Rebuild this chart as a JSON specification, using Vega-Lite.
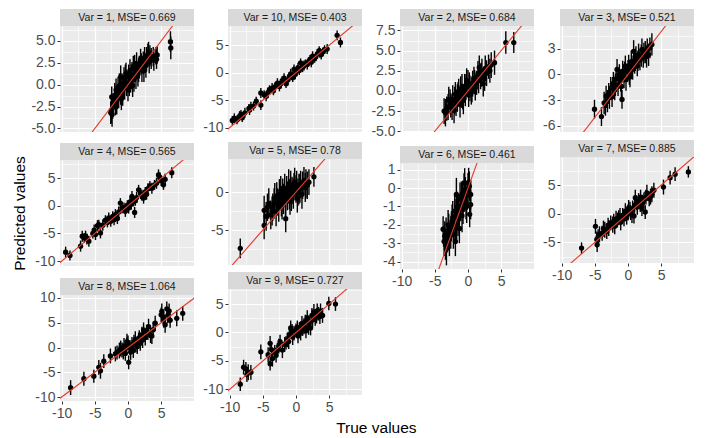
{
"$schema":"https://vega.github.io/schema/vega-lite/v6.json",
"padding":{"left":12,"top":9,"right":5,"bottom":0},
"config":{"view":{"stroke":null},"font":"Liberation Sans",
 "axis":{"domain":false,"labelFont":"Liberation Sans","labelFontSize":14,"labelColor":"#4D4D4D","tickColor":"#333333","tickSize":3,"tickWidth":1,"labelPadding":2,"gridColor":"#FFFFFF","labelFlush":false,"labelOverlap":false,"titleFont":"Liberation Sans","titleFontSize":15.5,"titleFontWeight":"normal","titleColor":"#000000"}},
"title":{"text":"True values","orient":"bottom","anchor":"middle","fontSize":15.5,"fontWeight":"normal","font":"Liberation Sans","color":"#000000","offset":1,"dx":23},
"datasets":{
"ident":[{"x":-20,"y":-20},{"x":20,"y":20}],
"pts":[
{"p":1,"x":-2.6,"y":-3.2,"e":1.3},{"p":1,"x":-2.5,"y":-2.9,"e":1.5},{"p":1,"x":-2.4,"y":-3.4,"e":1.4},{"p":1,"x":-2.45,"y":-1.4,"e":1.2},{"p":1,"x":-2.2,"y":-2.3,"e":1.3},{"p":1,"x":-2.0,"y":-1.2,"e":1.4},{"p":1,"x":-1.8,"y":-0.6,"e":1.3},{"p":1,"x":-1.7,"y":-1.9,"e":1.5},{"p":1,"x":-1.5,"y":-0.3,"e":1.2},{"p":1,"x":-1.4,"y":-1.3,"e":1.4},{"p":1,"x":-1.1,"y":0.9,"e":1.3},{"p":1,"x":-1.1,"y":-0.8,"e":1.5},{"p":1,"x":-0.9,"y":0.1,"e":1.2},{"p":1,"x":-0.8,"y":-1.0,"e":1.4},{"p":1,"x":-0.6,"y":0.7,"e":1.3},{"p":1,"x":-0.5,"y":-0.3,"e":1.4},{"p":1,"x":-0.3,"y":1.3,"e":1.2},{"p":1,"x":-0.2,"y":0.2,"e":1.5},{"p":1,"x":0.0,"y":-0.6,"e":1.3},{"p":1,"x":0.1,"y":0.9,"e":1.4},{"p":1,"x":0.3,"y":1.6,"e":1.3},{"p":1,"x":0.4,"y":0.3,"e":1.2},{"p":1,"x":0.6,"y":1.1,"e":1.5},{"p":1,"x":0.8,"y":2.0,"e":1.3},{"p":1,"x":0.9,"y":0.6,"e":1.4},{"p":1,"x":1.1,"y":1.5,"e":1.2},{"p":1,"x":1.3,"y":2.4,"e":1.3},{"p":1,"x":1.5,"y":1.2,"e":1.4},{"p":1,"x":1.7,"y":2.0,"e":1.3},{"p":1,"x":1.9,"y":2.9,"e":1.2},{"p":1,"x":2.1,"y":1.8,"e":1.5},{"p":1,"x":2.3,"y":2.5,"e":1.3},{"p":1,"x":2.5,"y":3.1,"e":1.2},{"p":1,"x":2.7,"y":2.2,"e":1.4},{"p":1,"x":3.0,"y":3.4,"e":1.3},{"p":1,"x":3.1,"y":3.7,"e":1.2},{"p":1,"x":3.2,"y":2.6,"e":1.3},{"p":1,"x":3.5,"y":3.0,"e":1.2},{"p":1,"x":3.8,"y":3.2,"e":1.1},{"p":1,"x":4.2,"y":3.3,"e":1.0},{"p":1,"x":4.4,"y":3.4,"e":1.0},{"p":1,"x":6.4,"y":4.9,"e":1.2},{"p":1,"x":6.45,"y":4.2,"e":1.3},
{"p":1,"x":-2.3,"y":-2.6,"e":1.3},{"p":1,"x":-1.9,"y":-2.1,"e":1.4},{"p":1,"x":-1.6,"y":-1.5,"e":1.3},{"p":1,"x":-1.3,"y":-0.1,"e":1.4},{"p":1,"x":-1.0,"y":-1.6,"e":1.3},{"p":1,"x":-0.7,"y":-0.4,"e":1.2},{"p":1,"x":-0.4,"y":0.9,"e":1.4},{"p":1,"x":0.2,"y":0.0,"e":1.3},{"p":1,"x":0.5,"y":0.9,"e":1.4},{"p":1,"x":0.7,"y":-0.1,"e":1.3},{"p":1,"x":1.0,"y":2.2,"e":1.2},{"p":1,"x":1.2,"y":0.9,"e":1.4},{"p":1,"x":1.6,"y":1.6,"e":1.3},{"p":1,"x":2.0,"y":2.4,"e":1.2},{"p":1,"x":2.4,"y":1.6,"e":1.3},{"p":1,"x":2.8,"y":2.9,"e":1.4},{"p":1,"x":3.3,"y":3.3,"e":1.2},{"p":1,"x":3.9,"y":2.8,"e":1.2},{"p":1,"x":4.3,"y":2.9,"e":1.1},
{"p":10,"x":-9.6,"y":-8.7,"e":0.8},{"p":10,"x":-9.3,"y":-8.3,"e":0.9},{"p":10,"x":-8.9,"y":-8.6,"e":0.8},{"p":10,"x":-8.5,"y":-7.9,"e":0.9},{"p":10,"x":-8.1,"y":-8.2,"e":0.8},{"p":10,"x":-7.7,"y":-7.3,"e":0.9},{"p":10,"x":-7.1,"y":-6.5,"e":0.8},{"p":10,"x":-7.0,"y":-6.8,"e":0.9},{"p":10,"x":-6.4,"y":-6.1,"e":0.8},{"p":10,"x":-5.3,"y":-5.9,"e":0.9},{"p":10,"x":-5.3,"y":-3.7,"e":0.9},{"p":10,"x":-4.8,"y":-4.0,"e":0.8},{"p":10,"x":-4.5,"y":-4.3,"e":0.9},{"p":10,"x":-4.0,"y":-3.1,"e":0.8},{"p":10,"x":-3.6,"y":-2.8,"e":0.9},{"p":10,"x":-3.2,"y":-2.6,"e":0.8},{"p":10,"x":-2.8,"y":-1.9,"e":0.9},{"p":10,"x":-2.5,"y":-2.5,"e":0.9},{"p":10,"x":-2.1,"y":-1.5,"e":0.8},{"p":10,"x":-1.8,"y":-1.0,"e":0.9},{"p":10,"x":-1.5,"y":-2.0,"e":0.8},{"p":10,"x":-1.2,"y":-1.3,"e":1.0},{"p":10,"x":-0.8,"y":-0.2,"e":0.9},{"p":10,"x":-0.5,"y":-0.9,"e":0.8},{"p":10,"x":-0.3,"y":0.6,"e":0.9},{"p":10,"x":0.0,"y":0.1,"e":0.8},{"p":10,"x":0.3,"y":0.9,"e":0.9},{"p":10,"x":0.7,"y":1.8,"e":0.8},{"p":10,"x":1.0,"y":1.0,"e":0.9},{"p":10,"x":1.4,"y":1.6,"e":0.8},{"p":10,"x":1.7,"y":1.5,"e":0.9},{"p":10,"x":2.1,"y":2.4,"e":0.8},{"p":10,"x":2.5,"y":3.0,"e":0.9},{"p":10,"x":2.8,"y":2.6,"e":0.8},{"p":10,"x":3.2,"y":3.4,"e":0.9},{"p":10,"x":3.5,"y":4.0,"e":0.8},{"p":10,"x":3.8,"y":3.3,"e":0.9},{"p":10,"x":4.1,"y":3.8,"e":0.8},{"p":10,"x":4.7,"y":4.3,"e":0.9},{"p":10,"x":6.2,"y":6.8,"e":0.9},{"p":10,"x":6.7,"y":5.5,"e":0.9},
{"p":10,"x":-8.3,"y":-7.6,"e":0.8},{"p":10,"x":-6.8,"y":-6.2,"e":0.9},{"p":10,"x":-6.0,"y":-5.2,"e":0.8},{"p":10,"x":-4.2,"y":-3.6,"e":0.9},{"p":10,"x":-3.4,"y":-3.3,"e":0.8},{"p":10,"x":-2.3,"y":-2.0,"e":0.9},{"p":10,"x":-1.0,"y":-0.7,"e":0.8},{"p":10,"x":-0.1,"y":-0.3,"e":0.9},{"p":10,"x":0.5,"y":0.4,"e":0.8},{"p":10,"x":1.2,"y":1.3,"e":0.9},{"p":10,"x":1.9,"y":2.0,"e":0.8},{"p":10,"x":2.3,"y":1.9,"e":0.9},{"p":10,"x":3.0,"y":2.9,"e":0.8},{"p":10,"x":3.6,"y":3.6,"e":0.9},{"p":10,"x":4.3,"y":4.2,"e":0.8},
{"p":2,"x":-3.6,"y":-2.5,"e":1.6},{"p":2,"x":-3.4,"y":-2.7,"e":1.7},{"p":2,"x":-3.2,"y":-2.2,"e":1.5},{"p":2,"x":-2.9,"y":-1.1,"e":1.6},{"p":2,"x":-2.6,"y":-1.8,"e":1.5},{"p":2,"x":-2.3,"y":-1.0,"e":1.7},{"p":2,"x":-2.1,"y":-2.4,"e":1.6},{"p":2,"x":-1.9,"y":-0.4,"e":1.5},{"p":2,"x":-1.8,"y":-1.5,"e":1.6},{"p":2,"x":-1.6,"y":-0.9,"e":1.7},{"p":2,"x":-1.4,"y":0.0,"e":1.5},{"p":2,"x":-1.2,"y":-1.7,"e":1.6},{"p":2,"x":-1.0,"y":-0.6,"e":1.5},{"p":2,"x":-0.9,"y":0.5,"e":1.6},{"p":2,"x":-0.7,"y":-1.2,"e":1.7},{"p":2,"x":-0.5,"y":0.6,"e":1.5},{"p":2,"x":-0.4,"y":-0.3,"e":1.6},{"p":2,"x":-0.2,"y":1.3,"e":1.5},{"p":2,"x":0.0,"y":1.0,"e":1.6},{"p":2,"x":0.1,"y":-0.5,"e":1.5},{"p":2,"x":0.3,"y":0.3,"e":1.6},{"p":2,"x":0.5,"y":-0.2,"e":1.5},{"p":2,"x":0.7,"y":0.9,"e":1.6},{"p":2,"x":0.9,"y":1.5,"e":1.5},{"p":2,"x":1.1,"y":0.4,"e":1.6},{"p":2,"x":1.3,"y":1.0,"e":1.5},{"p":2,"x":1.5,"y":2.1,"e":1.6},{"p":2,"x":1.7,"y":2.9,"e":1.5},{"p":2,"x":1.9,"y":1.8,"e":1.6},{"p":2,"x":2.1,"y":2.5,"e":1.5},{"p":2,"x":2.3,"y":0.9,"e":1.6},{"p":2,"x":2.5,"y":1.5,"e":1.5},{"p":2,"x":2.8,"y":2.2,"e":1.6},{"p":2,"x":3.1,"y":3.0,"e":1.5},{"p":2,"x":3.5,"y":3.2,"e":1.6},{"p":2,"x":4.0,"y":3.5,"e":1.5},{"p":2,"x":5.7,"y":6.0,"e":1.4},{"p":2,"x":6.9,"y":6.0,"e":1.3},
{"p":2,"x":-3.0,"y":-2.0,"e":1.6},{"p":2,"x":-2.7,"y":-1.3,"e":1.5},{"p":2,"x":-2.4,"y":-2.0,"e":1.6},{"p":2,"x":-2.0,"y":-1.2,"e":1.7},{"p":2,"x":-1.5,"y":-0.4,"e":1.5},{"p":2,"x":-1.1,"y":0.2,"e":1.6},{"p":2,"x":-0.8,"y":-0.8,"e":1.5},{"p":2,"x":-0.3,"y":0.5,"e":1.6},{"p":2,"x":0.2,"y":0.8,"e":1.5},{"p":2,"x":0.6,"y":0.2,"e":1.6},{"p":2,"x":1.0,"y":1.1,"e":1.5},{"p":2,"x":1.6,"y":1.3,"e":1.6},{"p":2,"x":2.0,"y":2.0,"e":1.5},{"p":2,"x":2.6,"y":2.8,"e":1.6},{"p":2,"x":3.3,"y":2.5,"e":1.5},
{"p":3,"x":-5.05,"y":-4.05,"e":1.1},{"p":3,"x":-4.0,"y":-4.9,"e":1.1},{"p":3,"x":-3.6,"y":-3.3,"e":1.3},{"p":3,"x":-3.3,"y":-2.5,"e":1.2},{"p":3,"x":-3.1,"y":-3.1,"e":1.3},{"p":3,"x":-2.9,"y":-2.2,"e":1.2},{"p":3,"x":-2.6,"y":-1.6,"e":1.3},{"p":3,"x":-2.4,"y":-2.6,"e":1.2},{"p":3,"x":-2.2,"y":-1.0,"e":1.3},{"p":3,"x":-2.0,"y":-1.8,"e":1.2},{"p":3,"x":-1.8,"y":-0.5,"e":1.3},{"p":3,"x":-1.65,"y":0.6,"e":1.2},{"p":3,"x":-1.5,"y":-1.2,"e":1.3},{"p":3,"x":-1.3,"y":0.0,"e":1.2},{"p":3,"x":-1.1,"y":-0.7,"e":1.3},{"p":3,"x":-0.9,"y":-2.9,"e":1.1},{"p":3,"x":-0.8,"y":0.4,"e":1.2},{"p":3,"x":-0.6,"y":-0.3,"e":1.3},{"p":3,"x":-0.4,"y":1.0,"e":1.2},{"p":3,"x":-0.3,"y":-0.6,"e":1.3},{"p":3,"x":0.0,"y":0.5,"e":1.2},{"p":3,"x":0.1,"y":1.0,"e":1.3},{"p":3,"x":0.3,"y":-0.3,"e":1.2},{"p":3,"x":0.5,"y":1.5,"e":1.3},{"p":3,"x":0.7,"y":0.6,"e":1.2},{"p":3,"x":0.85,"y":2.7,"e":1.3},{"p":3,"x":1.0,"y":1.3,"e":1.2},{"p":3,"x":1.2,"y":2.0,"e":1.3},{"p":3,"x":1.4,"y":1.0,"e":1.2},{"p":3,"x":1.6,"y":2.3,"e":1.3},{"p":3,"x":1.8,"y":1.7,"e":1.2},{"p":3,"x":2.1,"y":2.9,"e":1.3},{"p":3,"x":2.3,"y":2.0,"e":1.2},{"p":3,"x":2.6,"y":2.6,"e":1.3},{"p":3,"x":2.9,"y":3.0,"e":1.2},{"p":3,"x":3.1,"y":2.3,"e":1.3},{"p":3,"x":3.6,"y":3.5,"e":1.3},
{"p":3,"x":-3.4,"y":-3.6,"e":1.2},{"p":3,"x":-2.8,"y":-2.7,"e":1.3},{"p":3,"x":-2.3,"y":-1.5,"e":1.2},{"p":3,"x":-1.9,"y":-1.2,"e":1.3},{"p":3,"x":-1.4,"y":-0.5,"e":1.2},{"p":3,"x":-1.0,"y":-1.4,"e":1.3},{"p":3,"x":-0.5,"y":0.3,"e":1.2},{"p":3,"x":0.2,"y":0.1,"e":1.3},{"p":3,"x":0.6,"y":1.0,"e":1.2},{"p":3,"x":1.1,"y":1.7,"e":1.3},{"p":3,"x":1.5,"y":1.6,"e":1.2},{"p":3,"x":2.0,"y":2.2,"e":1.3},{"p":3,"x":2.4,"y":2.5,"e":1.2},{"p":3,"x":2.8,"y":2.1,"e":1.3},{"p":3,"x":3.3,"y":3.1,"e":1.2},
{"p":4,"x":-9.4,"y":-8.4,"e":1.0},{"p":4,"x":-8.75,"y":-9.0,"e":0.9},{"p":4,"x":-7.15,"y":-7.3,"e":1.0},{"p":4,"x":-6.9,"y":-5.5,"e":1.0},{"p":4,"x":-6.6,"y":-5.8,"e":0.9},{"p":4,"x":-6.4,"y":-5.5,"e":1.0},{"p":4,"x":-5.9,"y":-6.4,"e":1.0},{"p":4,"x":-5.3,"y":-5.0,"e":0.9},{"p":4,"x":-4.9,"y":-5.2,"e":1.0},{"p":4,"x":-4.6,"y":-3.6,"e":1.0},{"p":4,"x":-4.4,"y":-3.4,"e":0.9},{"p":4,"x":-4.15,"y":-4.9,"e":1.0},{"p":4,"x":-3.8,"y":-3.5,"e":1.0},{"p":4,"x":-3.4,"y":-2.6,"e":0.9},{"p":4,"x":-2.9,"y":-2.2,"e":1.0},{"p":4,"x":-2.6,"y":-2.8,"e":1.0},{"p":4,"x":-2.3,"y":-1.9,"e":0.9},{"p":4,"x":-1.9,"y":-1.6,"e":1.0},{"p":4,"x":-1.6,"y":-2.3,"e":1.0},{"p":4,"x":-1.15,"y":0.5,"e":0.9},{"p":4,"x":-0.9,"y":-0.4,"e":1.0},{"p":4,"x":-0.4,"y":-1.0,"e":1.0},{"p":4,"x":-0.1,"y":0.1,"e":0.9},{"p":4,"x":0.3,"y":0.7,"e":1.0},{"p":4,"x":0.6,"y":1.7,"e":1.0},{"p":4,"x":0.85,"y":0.8,"e":0.9},{"p":4,"x":1.0,"y":-1.2,"e":1.0},{"p":4,"x":1.3,"y":1.5,"e":1.0},{"p":4,"x":1.6,"y":2.9,"e":0.9},{"p":4,"x":1.9,"y":2.2,"e":1.0},{"p":4,"x":2.35,"y":1.4,"e":1.0},{"p":4,"x":2.6,"y":2.5,"e":0.9},{"p":4,"x":3.0,"y":3.1,"e":1.0},{"p":4,"x":3.6,"y":3.2,"e":1.0},{"p":4,"x":4.0,"y":3.8,"e":0.9},{"p":4,"x":4.6,"y":5.6,"e":1.0},{"p":4,"x":5.0,"y":4.6,"e":1.0},{"p":4,"x":5.35,"y":3.8,"e":0.9},{"p":4,"x":5.6,"y":4.8,"e":1.0},{"p":4,"x":6.6,"y":6.0,"e":1.0},
{"p":4,"x":-6.2,"y":-6.0,"e":1.0},{"p":4,"x":-5.1,"y":-4.4,"e":1.0},{"p":4,"x":-3.1,"y":-3.0,"e":0.9},{"p":4,"x":-2.1,"y":-2.5,"e":1.0},{"p":4,"x":-1.4,"y":-1.1,"e":1.0},{"p":4,"x":-0.6,"y":-0.3,"e":0.9},{"p":4,"x":0.1,"y":-0.4,"e":1.0},{"p":4,"x":0.5,"y":0.3,"e":1.0},{"p":4,"x":1.1,"y":0.9,"e":0.9},{"p":4,"x":2.1,"y":1.9,"e":1.0},{"p":4,"x":2.8,"y":2.1,"e":1.0},{"p":4,"x":3.3,"y":3.6,"e":0.9},{"p":4,"x":4.3,"y":4.1,"e":1.0},{"p":4,"x":4.8,"y":5.1,"e":1.0},
{"p":5,"x":-8.4,"y":-7.4,"e":1.3},{"p":5,"x":-4.8,"y":-2.4,"e":1.9},{"p":5,"x":-4.8,"y":-4.4,"e":1.8},{"p":5,"x":-4.1,"y":-1.5,"e":2.0},{"p":5,"x":-3.8,"y":-3.0,"e":1.9},{"p":5,"x":-3.5,"y":-2.0,"e":1.8},{"p":5,"x":-3.2,"y":-0.8,"e":2.0},{"p":5,"x":-3.0,"y":-2.6,"e":1.9},{"p":5,"x":-2.8,"y":-1.3,"e":1.8},{"p":5,"x":-2.5,"y":-0.3,"e":2.0},{"p":5,"x":-2.3,"y":0.2,"e":1.9},{"p":5,"x":-2.1,"y":-1.8,"e":1.8},{"p":5,"x":-1.9,"y":-0.9,"e":2.0},{"p":5,"x":-1.7,"y":0.5,"e":1.9},{"p":5,"x":-1.55,"y":-3.5,"e":1.8},{"p":5,"x":-1.3,"y":-0.5,"e":1.9},{"p":5,"x":-1.1,"y":1.0,"e":2.0},{"p":5,"x":-0.9,"y":-1.2,"e":1.8},{"p":5,"x":-0.8,"y":0.9,"e":1.9},{"p":5,"x":-0.6,"y":0.2,"e":1.8},{"p":5,"x":-0.4,"y":-0.2,"e":2.0},{"p":5,"x":-0.2,"y":1.3,"e":1.9},{"p":5,"x":0.0,"y":0.4,"e":1.8},{"p":5,"x":0.2,"y":-0.8,"e":1.9},{"p":5,"x":0.45,"y":0.4,"e":2.0},{"p":5,"x":0.7,"y":1.0,"e":1.8},{"p":5,"x":0.9,"y":-0.3,"e":1.9},{"p":5,"x":1.2,"y":1.5,"e":1.8},{"p":5,"x":1.4,"y":0.6,"e":1.9},{"p":5,"x":1.7,"y":0.9,"e":1.8},{"p":5,"x":1.95,"y":1.3,"e":1.7},{"p":5,"x":2.7,"y":2.0,"e":1.3},
{"p":5,"x":-4.5,"y":-3.2,"e":1.9},{"p":5,"x":-4.3,"y":-2.0,"e":1.8},{"p":5,"x":-3.6,"y":-2.5,"e":1.9},{"p":5,"x":-3.3,"y":-1.5,"e":2.0},{"p":5,"x":-2.9,"y":-0.5,"e":1.8},{"p":5,"x":-2.6,"y":-2.0,"e":1.9},{"p":5,"x":-2.2,"y":-1.2,"e":2.0},{"p":5,"x":-2.0,"y":0.0,"e":1.8},{"p":5,"x":-1.6,"y":-1.3,"e":1.9},{"p":5,"x":-1.4,"y":0.3,"e":1.8},{"p":5,"x":-1.0,"y":-0.3,"e":2.0},{"p":5,"x":-0.7,"y":-0.6,"e":1.9},{"p":5,"x":-0.3,"y":0.7,"e":1.8},{"p":5,"x":0.1,"y":0.9,"e":1.9},{"p":5,"x":0.3,"y":0.0,"e":1.8},{"p":5,"x":0.6,"y":0.5,"e":1.9},{"p":5,"x":1.0,"y":0.9,"e":1.8},{"p":5,"x":1.5,"y":1.1,"e":1.9},
{"p":6,"x":-3.75,"y":-2.24,"e":0.7},{"p":6,"x":-3.5,"y":-2.6,"e":0.8},{"p":6,"x":-3.4,"y":-3.1,"e":0.8},{"p":6,"x":-3.25,"y":-3.3,"e":0.9},{"p":6,"x":-3.0,"y":-2.0,"e":0.8},{"p":6,"x":-2.8,"y":-2.8,"e":0.9},{"p":6,"x":-2.5,"y":-2.06,"e":0.8},{"p":6,"x":-2.3,"y":-1.6,"e":0.9},{"p":6,"x":-2.2,"y":-2.5,"e":0.8},{"p":6,"x":-2.0,"y":-1.25,"e":0.9},{"p":6,"x":-1.9,"y":-2.9,"e":0.8},{"p":6,"x":-1.75,"y":-0.35,"e":0.9},{"p":6,"x":-1.6,"y":-1.0,"e":0.8},{"p":6,"x":-1.5,"y":-1.7,"e":0.9},{"p":6,"x":-1.3,"y":-2.2,"e":0.8},{"p":6,"x":-1.2,"y":-0.6,"e":0.9},{"p":6,"x":-1.0,"y":-0.44,"e":0.8},{"p":6,"x":-0.9,"y":-1.5,"e":0.9},{"p":6,"x":-0.75,"y":-1.16,"e":0.8},{"p":6,"x":-0.6,"y":-0.1,"e":0.9},{"p":6,"x":-0.5,"y":0.28,"e":0.8},{"p":6,"x":-0.3,"y":-0.8,"e":0.9},{"p":6,"x":-0.15,"y":-0.4,"e":0.8},{"p":6,"x":0.0,"y":-0.08,"e":0.9},{"p":6,"x":0.1,"y":0.3,"e":0.8},{"p":6,"x":0.25,"y":-1.43,"e":0.7},{"p":6,"x":0.4,"y":-0.35,"e":0.8},
{"p":6,"x":-3.6,"y":-2.9,"e":0.8},{"p":6,"x":-3.3,"y":-2.5,"e":0.9},{"p":6,"x":-3.1,"y":-2.7,"e":0.8},{"p":6,"x":-2.9,"y":-2.3,"e":0.9},{"p":6,"x":-2.6,"y":-2.5,"e":0.8},{"p":6,"x":-2.4,"y":-1.8,"e":0.9},{"p":6,"x":-2.1,"y":-2.1,"e":0.8},{"p":6,"x":-1.8,"y":-1.5,"e":0.9},{"p":6,"x":-1.7,"y":-2.0,"e":0.8},{"p":6,"x":-1.4,"y":-1.2,"e":0.9},{"p":6,"x":-1.1,"y":-1.0,"e":0.8},{"p":6,"x":-0.8,"y":-0.5,"e":0.9},{"p":6,"x":-0.4,"y":-0.2,"e":0.8},{"p":6,"x":-0.2,"y":-1.0,"e":0.9},{"p":6,"x":0.2,"y":0.1,"e":0.8},{"p":6,"x":0.4,"y":-0.9,"e":0.8},
{"p":7,"x":-7.0,"y":-6.0,"e":1.0},{"p":7,"x":-4.9,"y":-2.2,"e":1.3},{"p":7,"x":-4.7,"y":-4.5,"e":1.4},{"p":7,"x":-4.65,"y":-5.4,"e":1.3},{"p":7,"x":-4.3,"y":-3.6,"e":1.4},{"p":7,"x":-3.9,"y":-3.4,"e":1.3},{"p":7,"x":-3.5,"y":-2.8,"e":1.4},{"p":7,"x":-3.2,"y":-3.1,"e":1.3},{"p":7,"x":-2.9,"y":-2.5,"e":1.4},{"p":7,"x":-2.6,"y":-1.6,"e":1.3},{"p":7,"x":-2.3,"y":-1.9,"e":1.4},{"p":7,"x":-2.15,"y":-1.3,"e":1.3},{"p":7,"x":-1.8,"y":-0.9,"e":1.4},{"p":7,"x":-1.4,"y":-0.7,"e":1.3},{"p":7,"x":-1.1,"y":-1.5,"e":1.4},{"p":7,"x":-0.8,"y":-0.3,"e":1.3},{"p":7,"x":-0.4,"y":0.44,"e":1.4},{"p":7,"x":-0.2,"y":-0.6,"e":1.3},{"p":7,"x":0.1,"y":1.0,"e":1.4},{"p":7,"x":0.4,"y":0.2,"e":1.3},{"p":7,"x":0.7,"y":0.9,"e":1.4},{"p":7,"x":0.9,"y":-0.4,"e":1.3},{"p":7,"x":1.1,"y":2.8,"e":1.4},{"p":7,"x":1.3,"y":1.9,"e":1.3},{"p":7,"x":1.6,"y":2.2,"e":1.4},{"p":7,"x":1.85,"y":1.6,"e":1.3},{"p":7,"x":2.1,"y":1.0,"e":1.4},{"p":7,"x":2.4,"y":2.4,"e":1.3},{"p":7,"x":2.6,"y":0.3,"e":1.2},{"p":7,"x":2.85,"y":3.65,"e":1.4},{"p":7,"x":3.2,"y":2.6,"e":1.3},{"p":7,"x":3.6,"y":3.4,"e":1.4},{"p":7,"x":3.9,"y":4.1,"e":1.3},{"p":7,"x":5.35,"y":4.65,"e":1.3},{"p":7,"x":6.35,"y":6.3,"e":1.2},{"p":7,"x":7.1,"y":6.9,"e":1.2},{"p":7,"x":9.1,"y":7.3,"e":1.0},
{"p":7,"x":-4.5,"y":-4.0,"e":1.3},{"p":7,"x":-3.7,"y":-2.6,"e":1.4},{"p":7,"x":-3.0,"y":-2.0,"e":1.3},{"p":7,"x":-2.0,"y":-2.2,"e":1.4},{"p":7,"x":-1.6,"y":-1.1,"e":1.3},{"p":7,"x":-1.2,"y":-0.4,"e":1.4},{"p":7,"x":-0.6,"y":-0.9,"e":1.3},{"p":7,"x":0.0,"y":0.2,"e":1.4},{"p":7,"x":0.3,"y":0.8,"e":1.3},{"p":7,"x":0.6,"y":-0.2,"e":1.4},{"p":7,"x":1.0,"y":1.5,"e":1.3},{"p":7,"x":1.4,"y":1.2,"e":1.4},{"p":7,"x":1.9,"y":2.9,"e":1.3},{"p":7,"x":2.2,"y":1.9,"e":1.4},{"p":7,"x":2.7,"y":2.9,"e":1.3},{"p":7,"x":3.4,"y":3.0,"e":1.4},
{"p":8,"x":-8.65,"y":-8.1,"e":1.5},{"p":8,"x":-6.65,"y":-6.3,"e":1.4},{"p":8,"x":-5.15,"y":-5.8,"e":1.3},{"p":8,"x":-4.4,"y":-4.0,"e":1.5},{"p":8,"x":-4.15,"y":-4.7,"e":1.6},{"p":8,"x":-3.65,"y":-2.75,"e":1.4},{"p":8,"x":-2.65,"y":-1.7,"e":1.5},{"p":8,"x":-1.65,"y":-1.0,"e":1.4},{"p":8,"x":-1.3,"y":-0.6,"e":1.6},{"p":8,"x":-0.9,"y":-0.5,"e":1.5},{"p":8,"x":-0.6,"y":0.3,"e":1.6},{"p":8,"x":-0.4,"y":-1.2,"e":1.5},{"p":8,"x":-0.15,"y":1.2,"e":1.6},{"p":8,"x":0.1,"y":-3.0,"e":1.4},{"p":8,"x":0.3,"y":0.0,"e":1.5},{"p":8,"x":0.6,"y":0.5,"e":1.6},{"p":8,"x":0.8,"y":-0.6,"e":1.5},{"p":8,"x":1.1,"y":1.66,"e":1.6},{"p":8,"x":1.4,"y":0.2,"e":1.5},{"p":8,"x":1.6,"y":1.4,"e":1.6},{"p":8,"x":1.85,"y":0.85,"e":1.5},{"p":8,"x":2.1,"y":2.6,"e":1.6},{"p":8,"x":2.35,"y":3.56,"e":1.5},{"p":8,"x":2.6,"y":2.0,"e":1.6},{"p":8,"x":2.8,"y":3.1,"e":1.5},{"p":8,"x":3.1,"y":4.2,"e":1.6},{"p":8,"x":3.4,"y":2.4,"e":1.5},{"p":8,"x":3.6,"y":2.3,"e":1.6},{"p":8,"x":4.1,"y":4.9,"e":1.5},{"p":8,"x":5.1,"y":7.3,"e":1.6},{"p":8,"x":5.3,"y":6.2,"e":1.5},{"p":8,"x":5.6,"y":4.6,"e":1.6},{"p":8,"x":5.85,"y":7.8,"e":1.5},{"p":8,"x":6.0,"y":6.5,"e":1.6},{"p":8,"x":6.35,"y":5.5,"e":1.5},{"p":8,"x":7.35,"y":5.9,"e":1.6},{"p":8,"x":8.25,"y":6.9,"e":1.5},
{"p":8,"x":-1.9,"y":-1.3,"e":1.5},{"p":8,"x":-1.1,"y":-0.2,"e":1.6},{"p":8,"x":-0.7,"y":-0.9,"e":1.5},{"p":8,"x":-0.2,"y":0.4,"e":1.6},{"p":8,"x":0.0,"y":0.9,"e":1.5},{"p":8,"x":0.4,"y":-0.9,"e":1.6},{"p":8,"x":0.9,"y":1.1,"e":1.5},{"p":8,"x":1.2,"y":0.6,"e":1.6},{"p":8,"x":1.7,"y":2.0,"e":1.5},{"p":8,"x":2.2,"y":1.5,"e":1.6},{"p":8,"x":3.0,"y":3.0,"e":1.5},{"p":8,"x":3.8,"y":3.6,"e":1.6},{"p":8,"x":5.0,"y":6.6,"e":1.5},{"p":8,"x":5.4,"y":5.6,"e":1.6},{"p":8,"x":6.2,"y":7.4,"e":1.5},
{"p":9,"x":-8.4,"y":-9.1,"e":1.2},{"p":9,"x":-7.9,"y":-6.1,"e":1.3},{"p":9,"x":-7.55,"y":-6.4,"e":1.2},{"p":9,"x":-7.2,"y":-7.0,"e":1.4},{"p":9,"x":-6.8,"y":-7.0,"e":1.3},{"p":9,"x":-5.3,"y":-3.4,"e":1.3},{"p":9,"x":-3.9,"y":-1.9,"e":1.3},{"p":9,"x":-3.9,"y":-5.5,"e":1.2},{"p":9,"x":-3.7,"y":-3.0,"e":1.3},{"p":9,"x":-3.55,"y":-4.6,"e":1.4},{"p":9,"x":-3.2,"y":-3.5,"e":1.3},{"p":9,"x":-2.8,"y":-3.1,"e":1.3},{"p":9,"x":-2.4,"y":-1.6,"e":1.2},{"p":9,"x":-2.05,"y":-3.1,"e":1.4},{"p":9,"x":-1.7,"y":-2.1,"e":1.3},{"p":9,"x":-1.3,"y":-1.3,"e":1.3},{"p":9,"x":-1.0,"y":-0.4,"e":1.2},{"p":9,"x":-0.8,"y":0.8,"e":1.3},{"p":9,"x":-0.5,"y":-0.8,"e":1.4},{"p":9,"x":-0.3,"y":-0.1,"e":1.3},{"p":9,"x":0.0,"y":0.4,"e":1.2},{"p":9,"x":0.3,"y":-0.6,"e":1.3},{"p":9,"x":0.7,"y":-0.1,"e":1.3},{"p":9,"x":1.0,"y":0.6,"e":1.2},{"p":9,"x":1.2,"y":1.1,"e":1.4},{"p":9,"x":1.5,"y":0.3,"e":1.3},{"p":9,"x":1.7,"y":2.6,"e":1.3},{"p":9,"x":2.0,"y":1.6,"e":1.2},{"p":9,"x":2.2,"y":0.8,"e":1.3},{"p":9,"x":2.5,"y":2.2,"e":1.3},{"p":9,"x":2.7,"y":3.6,"e":1.4},{"p":9,"x":3.1,"y":2.9,"e":1.3},{"p":9,"x":3.4,"y":3.3,"e":1.2},{"p":9,"x":3.7,"y":3.8,"e":1.3},{"p":9,"x":4.0,"y":3.0,"e":1.3},{"p":9,"x":4.95,"y":5.1,"e":1.2},{"p":9,"x":5.95,"y":5.0,"e":1.2},
{"p":9,"x":-7.4,"y":-7.4,"e":1.3},{"p":9,"x":-4.2,"y":-3.9,"e":1.3},{"p":9,"x":-3.0,"y":-4.0,"e":1.3},{"p":9,"x":-2.6,"y":-2.4,"e":1.3},{"p":9,"x":-1.5,"y":-1.8,"e":1.2},{"p":9,"x":-1.1,"y":-1.6,"e":1.3},{"p":9,"x":-0.6,"y":0.2,"e":1.3},{"p":9,"x":0.2,"y":0.9,"e":1.2},{"p":9,"x":0.5,"y":0.5,"e":1.3},{"p":9,"x":0.9,"y":1.6,"e":1.3},{"p":9,"x":1.4,"y":1.9,"e":1.2},{"p":9,"x":1.9,"y":0.9,"e":1.3},{"p":9,"x":2.4,"y":3.0,"e":1.3},{"p":9,"x":2.9,"y":2.4,"e":1.2},{"p":9,"x":3.2,"y":3.8,"e":1.3},{"p":9,"x":3.6,"y":2.8,"e":1.3}
]},
"data":{"name":"pts"},
"spacing":8,
"hconcat":[
{"spacing":7,"vconcat":[
 {"spacing":0,"bounds":"flush","vconcat":[
  {"width":134,"height":17,"data":{"values":[{"t":"Var = 1, MSE= 0.669"}]},"view":{"fill":"#D9D9D9","stroke":null},"mark":{"type":"text","fontSize":10.5,"color":"#1A1A1A"},"encoding":{"text":{"field":"t"},"x":{"field":"t","type":"nominal","axis":null},"y":{"field":"t","type":"nominal","axis":null}}},
  {"width":134,"height":106,"view":{"fill":"#EBEBEB","stroke":null},
   "encoding":{"x":{"field":"x","type":"quantitative","scale":{"domain":[-10.25,9.95],"nice":false,"zero":false},"axis":{"title":null,"labels":false,"ticks":false,"values":[-10,-7.5,-5,-2.5,0,2.5,5,7.5],"gridWidth":{"condition":{"test":"datum.value % 5 !== 0","value":0.6},"value":1.2}}},
    "y":{"field":"y","type":"quantitative","scale":{"domain":[-5.4,6.7],"nice":false,"zero":false},"axis":{"title":null,"values":[-5,-3.75,-2.5,-1.25,0,1.25,2.5,3.75,5,6.25],"labelExpr":"datum.value % 2.5 === 0 ? replace(format(datum.value, '.1f'), '\u2212', '-') : ''","tickOpacity":{"condition":{"test":"datum.value % 2.5 !== 0","value":0},"value":1},"gridWidth":{"condition":{"test":"datum.value % 2.5 !== 0","value":0.6},"value":1.2}}}},
   "layer":[
    {"transform":[{"filter":"datum.p == 1"}],"mark":{"type":"errorbar","color":"black","thickness":1.4},"encoding":{"yError":{"field":"e"}}},
    {"transform":[{"filter":"datum.p == 1"}],"mark":{"type":"circle","color":"black","size":28,"opacity":1}},
    {"data":{"name":"ident"},"mark":{"type":"line","color":"#E33B2B","strokeWidth":1.1,"clip":true}}]}
 ]},
 {"spacing":0,"bounds":"flush","vconcat":[
  {"width":134,"height":17,"data":{"values":[{"t":"Var = 4, MSE= 0.565"}]},"view":{"fill":"#D9D9D9","stroke":null},"mark":{"type":"text","fontSize":10.5,"color":"#1A1A1A"},"encoding":{"text":{"field":"t"},"x":{"field":"t","type":"nominal","axis":null},"y":{"field":"t","type":"nominal","axis":null}}},
  {"width":134,"height":106,"view":{"fill":"#EBEBEB","stroke":null},
   "encoding":{"x":{"field":"x","type":"quantitative","scale":{"domain":[-10.25,9.95],"nice":false,"zero":false},"axis":{"title":null,"labels":false,"ticks":false,"values":[-10,-7.5,-5,-2.5,0,2.5,5,7.5],"gridWidth":{"condition":{"test":"datum.value % 5 !== 0","value":0.6},"value":1.2}}},
    "y":{"field":"y","type":"quantitative","scale":{"domain":[-10.9,8.3],"nice":false,"zero":false},"axis":{"title":"Predicted values","titlePadding":7,"values":[-10,-7.5,-5,-2.5,0,2.5,5,7.5],"labelExpr":"datum.value % 5 === 0 ? '' + datum.value : ''","tickOpacity":{"condition":{"test":"datum.value % 5 !== 0","value":0},"value":1},"gridWidth":{"condition":{"test":"datum.value % 5 !== 0","value":0.6},"value":1.2}}}},
   "layer":[
    {"transform":[{"filter":"datum.p == 4"}],"mark":{"type":"errorbar","color":"black","thickness":1.4},"encoding":{"yError":{"field":"e"}}},
    {"transform":[{"filter":"datum.p == 4"}],"mark":{"type":"circle","color":"black","size":28,"opacity":1}},
    {"data":{"name":"ident"},"mark":{"type":"line","color":"#E33B2B","strokeWidth":1.1,"clip":true}}]}
 ]},
 {"spacing":0,"bounds":"flush","vconcat":[
  {"width":134,"height":17,"data":{"values":[{"t":"Var = 8, MSE= 1.064"}]},"view":{"fill":"#D9D9D9","stroke":null},"mark":{"type":"text","fontSize":10.5,"color":"#1A1A1A"},"encoding":{"text":{"field":"t"},"x":{"field":"t","type":"nominal","axis":null},"y":{"field":"t","type":"nominal","axis":null}}},
  {"width":134,"height":106,"view":{"fill":"#EBEBEB","stroke":null},
   "encoding":{"x":{"field":"x","type":"quantitative","scale":{"domain":[-10.25,9.95],"nice":false,"zero":false},"axis":{"title":null,"values":[-10,-7.5,-5,-2.5,0,2.5,5,7.5],"labelExpr":"datum.value % 5 === 0 ? '' + datum.value : ''","tickOpacity":{"condition":{"test":"datum.value % 5 !== 0","value":0},"value":1},"gridWidth":{"condition":{"test":"datum.value % 5 !== 0","value":0.6},"value":1.2}}},
    "y":{"field":"y","type":"quantitative","scale":{"domain":[-10.8,10.6],"nice":false,"zero":false},"axis":{"title":null,"values":[-10,-7.5,-5,-2.5,0,2.5,5,7.5,10],"labelExpr":"datum.value % 5 === 0 ? '' + datum.value : ''","tickOpacity":{"condition":{"test":"datum.value % 5 !== 0","value":0},"value":1},"gridWidth":{"condition":{"test":"datum.value % 5 !== 0","value":0.6},"value":1.2}}}},
   "layer":[
    {"transform":[{"filter":"datum.p == 8"}],"mark":{"type":"errorbar","color":"black","thickness":1.4},"encoding":{"yError":{"field":"e"}}},
    {"transform":[{"filter":"datum.p == 8"}],"mark":{"type":"circle","color":"black","size":28,"opacity":1}},
    {"data":{"name":"ident"},"mark":{"type":"line","color":"#E33B2B","strokeWidth":1.1,"clip":true}}]}
 ]}
]},
{"spacing":7,"vconcat":[
 {"spacing":0,"bounds":"flush","vconcat":[
  {"width":134,"height":17,"data":{"values":[{"t":"Var = 10, MSE= 0.403"}]},"view":{"fill":"#D9D9D9","stroke":null},"mark":{"type":"text","fontSize":10.5,"color":"#1A1A1A"},"encoding":{"text":{"field":"t"},"x":{"field":"t","type":"nominal","axis":null},"y":{"field":"t","type":"nominal","axis":null}}},
  {"width":134,"height":106,"view":{"fill":"#EBEBEB","stroke":null},
   "encoding":{"x":{"field":"x","type":"quantitative","scale":{"domain":[-10.25,9.95],"nice":false,"zero":false},"axis":{"title":null,"labels":false,"ticks":false,"values":[-10,-7.5,-5,-2.5,0,2.5,5,7.5],"gridWidth":{"condition":{"test":"datum.value % 5 !== 0","value":0.6},"value":1.2}}},
    "y":{"field":"y","type":"quantitative","scale":{"domain":[-10.8,8.5],"nice":false,"zero":false},"axis":{"title":null,"values":[-10,-7.5,-5,-2.5,0,2.5,5,7.5],"labelExpr":"datum.value % 5 === 0 ? '' + datum.value : ''","tickOpacity":{"condition":{"test":"datum.value % 5 !== 0","value":0},"value":1},"gridWidth":{"condition":{"test":"datum.value % 5 !== 0","value":0.6},"value":1.2}}}},
   "layer":[
    {"transform":[{"filter":"datum.p == 10"}],"mark":{"type":"errorbar","color":"black","thickness":1.4},"encoding":{"yError":{"field":"e"}}},
    {"transform":[{"filter":"datum.p == 10"}],"mark":{"type":"circle","color":"black","size":28,"opacity":1}},
    {"data":{"name":"ident"},"mark":{"type":"line","color":"#E33B2B","strokeWidth":1.1,"clip":true}}]}
 ]},
 {"spacing":0,"bounds":"flush","vconcat":[
  {"width":134,"height":17,"data":{"values":[{"t":"Var = 5, MSE= 0.78"}]},"view":{"fill":"#D9D9D9","stroke":null},"mark":{"type":"text","fontSize":10.5,"color":"#1A1A1A"},"encoding":{"text":{"field":"t"},"x":{"field":"t","type":"nominal","axis":null},"y":{"field":"t","type":"nominal","axis":null}}},
  {"width":134,"height":106,"view":{"fill":"#EBEBEB","stroke":null},
   "encoding":{"x":{"field":"x","type":"quantitative","scale":{"domain":[-10.25,9.95],"nice":false,"zero":false},"axis":{"title":null,"labels":false,"ticks":false,"values":[-10,-7.5,-5,-2.5,0,2.5,5,7.5],"gridWidth":{"condition":{"test":"datum.value % 5 !== 0","value":0.6},"value":1.2}}},
    "y":{"field":"y","type":"quantitative","scale":{"domain":[-9.6,4.35],"nice":false,"zero":false},"axis":{"title":null,"values":[-7.5,-5,-2.5,0,2.5],"labelExpr":"datum.value % 5 === 0 ? '' + datum.value : ''","tickOpacity":{"condition":{"test":"datum.value % 5 !== 0","value":0},"value":1},"gridWidth":{"condition":{"test":"datum.value % 5 !== 0","value":0.6},"value":1.2}}}},
   "layer":[
    {"transform":[{"filter":"datum.p == 5"}],"mark":{"type":"errorbar","color":"black","thickness":1.4},"encoding":{"yError":{"field":"e"}}},
    {"transform":[{"filter":"datum.p == 5"}],"mark":{"type":"circle","color":"black","size":28,"opacity":1}},
    {"data":{"name":"ident"},"mark":{"type":"line","color":"#E33B2B","strokeWidth":1.1,"clip":true}}]}
 ]},
 {"spacing":0,"bounds":"flush","vconcat":[
  {"width":134,"height":17,"data":{"values":[{"t":"Var = 9, MSE= 0.727"}]},"view":{"fill":"#D9D9D9","stroke":null},"mark":{"type":"text","fontSize":10.5,"color":"#1A1A1A"},"encoding":{"text":{"field":"t"},"x":{"field":"t","type":"nominal","axis":null},"y":{"field":"t","type":"nominal","axis":null}}},
  {"width":134,"height":106,"view":{"fill":"#EBEBEB","stroke":null},
   "encoding":{"x":{"field":"x","type":"quantitative","scale":{"domain":[-10.25,9.95],"nice":false,"zero":false},"axis":{"title":null,"values":[-10,-7.5,-5,-2.5,0,2.5,5,7.5],"labelExpr":"datum.value % 5 === 0 ? '' + datum.value : ''","tickOpacity":{"condition":{"test":"datum.value % 5 !== 0","value":0},"value":1},"gridWidth":{"condition":{"test":"datum.value % 5 !== 0","value":0.6},"value":1.2}}},
    "y":{"field":"y","type":"quantitative","scale":{"domain":[-11.0,7.65],"nice":false,"zero":false},"axis":{"title":null,"values":[-10,-7.5,-5,-2.5,0,2.5,5,7.5],"labelExpr":"datum.value % 5 === 0 ? '' + datum.value : ''","tickOpacity":{"condition":{"test":"datum.value % 5 !== 0","value":0},"value":1},"gridWidth":{"condition":{"test":"datum.value % 5 !== 0","value":0.6},"value":1.2}}}},
   "layer":[
    {"transform":[{"filter":"datum.p == 9"}],"mark":{"type":"errorbar","color":"black","thickness":1.4},"encoding":{"yError":{"field":"e"}}},
    {"transform":[{"filter":"datum.p == 9"}],"mark":{"type":"circle","color":"black","size":28,"opacity":1}},
    {"data":{"name":"ident"},"mark":{"type":"line","color":"#E33B2B","strokeWidth":1.1,"clip":true}}]}
 ]}
]},
{"spacing":7,"vconcat":[
 {"spacing":0,"bounds":"flush","vconcat":[
  {"width":134,"height":17,"data":{"values":[{"t":"Var = 2, MSE= 0.684"}]},"view":{"fill":"#D9D9D9","stroke":null},"mark":{"type":"text","fontSize":10.5,"color":"#1A1A1A"},"encoding":{"text":{"field":"t"},"x":{"field":"t","type":"nominal","axis":null},"y":{"field":"t","type":"nominal","axis":null}}},
  {"width":134,"height":106,"view":{"fill":"#EBEBEB","stroke":null},
   "encoding":{"x":{"field":"x","type":"quantitative","scale":{"domain":[-10.25,9.95],"nice":false,"zero":false},"axis":{"title":null,"labels":false,"ticks":false,"values":[-10,-7.5,-5,-2.5,0,2.5,5,7.5],"gridWidth":{"condition":{"test":"datum.value % 5 !== 0","value":0.6},"value":1.2}}},
    "y":{"field":"y","type":"quantitative","scale":{"domain":[-5.1,8.05],"nice":false,"zero":false},"axis":{"title":null,"values":[-5,-3.75,-2.5,-1.25,0,1.25,2.5,3.75,5,6.25,7.5],"labelExpr":"datum.value % 2.5 === 0 ? replace(format(datum.value, '.1f'), '\u2212', '-') : ''","tickOpacity":{"condition":{"test":"datum.value % 2.5 !== 0","value":0},"value":1},"gridWidth":{"condition":{"test":"datum.value % 2.5 !== 0","value":0.6},"value":1.2}}}},
   "layer":[
    {"transform":[{"filter":"datum.p == 2"}],"mark":{"type":"errorbar","color":"black","thickness":1.4},"encoding":{"yError":{"field":"e"}}},
    {"transform":[{"filter":"datum.p == 2"}],"mark":{"type":"circle","color":"black","size":28,"opacity":1}},
    {"data":{"name":"ident"},"mark":{"type":"line","color":"#E33B2B","strokeWidth":1.1,"clip":true}}]}
 ]},
 {"spacing":0,"bounds":"flush","vconcat":[
  {"width":134,"height":17,"data":{"values":[{"t":"Var = 6, MSE= 0.461"}]},"view":{"fill":"#D9D9D9","stroke":null},"mark":{"type":"text","fontSize":10.5,"color":"#1A1A1A"},"encoding":{"text":{"field":"t"},"x":{"field":"t","type":"nominal","axis":null},"y":{"field":"t","type":"nominal","axis":null}}},
  {"width":134,"height":106,"view":{"fill":"#EBEBEB","stroke":null},
   "encoding":{"x":{"field":"x","type":"quantitative","scale":{"domain":[-10.25,9.95],"nice":false,"zero":false},"axis":{"title":null,"values":[-10,-7.5,-5,-2.5,0,2.5,5,7.5],"labelExpr":"datum.value % 5 === 0 ? '' + datum.value : ''","tickOpacity":{"condition":{"test":"datum.value % 5 !== 0","value":0},"value":1},"gridWidth":{"condition":{"test":"datum.value % 5 !== 0","value":0.6},"value":1.2}}},
    "y":{"field":"y","type":"quantitative","scale":{"domain":[-4.4,1.36],"nice":false,"zero":false},"axis":{"title":null,"values":[-4,-3.5,-3,-2.5,-2,-1.5,-1,-0.5,0,0.5,1],"labelExpr":"datum.value % 1 === 0 ? '' + datum.value : ''","tickOpacity":{"condition":{"test":"datum.value % 1 !== 0","value":0},"value":1},"gridWidth":{"condition":{"test":"datum.value % 1 !== 0","value":0.6},"value":1.2}}}},
   "layer":[
    {"transform":[{"filter":"datum.p == 6"}],"mark":{"type":"errorbar","color":"black","thickness":1.4},"encoding":{"yError":{"field":"e"}}},
    {"transform":[{"filter":"datum.p == 6"}],"mark":{"type":"circle","color":"black","size":28,"opacity":1}},
    {"data":{"name":"ident"},"mark":{"type":"line","color":"#E33B2B","strokeWidth":1.1,"clip":true}}]}
 ]}
]},
{"spacing":7,"vconcat":[
 {"spacing":0,"bounds":"flush","vconcat":[
  {"width":134,"height":17,"data":{"values":[{"t":"Var = 3, MSE= 0.521"}]},"view":{"fill":"#D9D9D9","stroke":null},"mark":{"type":"text","fontSize":10.5,"color":"#1A1A1A"},"encoding":{"text":{"field":"t"},"x":{"field":"t","type":"nominal","axis":null},"y":{"field":"t","type":"nominal","axis":null}}},
  {"width":134,"height":106,"view":{"fill":"#EBEBEB","stroke":null},
   "encoding":{"x":{"field":"x","type":"quantitative","scale":{"domain":[-10.25,9.95],"nice":false,"zero":false},"axis":{"title":null,"labels":false,"ticks":false,"values":[-10,-7.5,-5,-2.5,0,2.5,5,7.5],"gridWidth":{"condition":{"test":"datum.value % 5 !== 0","value":0.6},"value":1.2}}},
    "y":{"field":"y","type":"quantitative","scale":{"domain":[-6.7,5.65],"nice":false,"zero":false},"axis":{"title":null,"values":[-6,-4.5,-3,-1.5,0,1.5,3,4.5],"labelExpr":"datum.value % 3 === 0 ? '' + datum.value : ''","tickOpacity":{"condition":{"test":"datum.value % 3 !== 0","value":0},"value":1},"gridWidth":{"condition":{"test":"datum.value % 3 !== 0","value":0.6},"value":1.2}}}},
   "layer":[
    {"transform":[{"filter":"datum.p == 3"}],"mark":{"type":"errorbar","color":"black","thickness":1.4},"encoding":{"yError":{"field":"e"}}},
    {"transform":[{"filter":"datum.p == 3"}],"mark":{"type":"circle","color":"black","size":28,"opacity":1}},
    {"data":{"name":"ident"},"mark":{"type":"line","color":"#E33B2B","strokeWidth":1.1,"clip":true}}]}
 ]},
 {"spacing":0,"bounds":"flush","vconcat":[
  {"width":134,"height":17,"data":{"values":[{"t":"Var = 7, MSE= 0.885"}]},"view":{"fill":"#D9D9D9","stroke":null},"mark":{"type":"text","fontSize":10.5,"color":"#1A1A1A"},"encoding":{"text":{"field":"t"},"x":{"field":"t","type":"nominal","axis":null},"y":{"field":"t","type":"nominal","axis":null}}},
  {"width":134,"height":106,"view":{"fill":"#EBEBEB","stroke":null},
   "encoding":{"x":{"field":"x","type":"quantitative","scale":{"domain":[-10.25,9.95],"nice":false,"zero":false},"axis":{"title":null,"values":[-10,-7.5,-5,-2.5,0,2.5,5,7.5],"labelExpr":"datum.value % 5 === 0 ? '' + datum.value : ''","tickOpacity":{"condition":{"test":"datum.value % 5 !== 0","value":0},"value":1},"gridWidth":{"condition":{"test":"datum.value % 5 !== 0","value":0.6},"value":1.2}}},
    "y":{"field":"y","type":"quantitative","scale":{"domain":[-8.6,9.9],"nice":false,"zero":false},"axis":{"title":null,"values":[-7.5,-5,-2.5,0,2.5,5,7.5],"labelExpr":"datum.value % 5 === 0 ? '' + datum.value : ''","tickOpacity":{"condition":{"test":"datum.value % 5 !== 0","value":0},"value":1},"gridWidth":{"condition":{"test":"datum.value % 5 !== 0","value":0.6},"value":1.2}}}},
   "layer":[
    {"transform":[{"filter":"datum.p == 7"}],"mark":{"type":"errorbar","color":"black","thickness":1.4},"encoding":{"yError":{"field":"e"}}},
    {"transform":[{"filter":"datum.p == 7"}],"mark":{"type":"circle","color":"black","size":28,"opacity":1}},
    {"data":{"name":"ident"},"mark":{"type":"line","color":"#E33B2B","strokeWidth":1.1,"clip":true}}]}
 ]}
]}
]
}
